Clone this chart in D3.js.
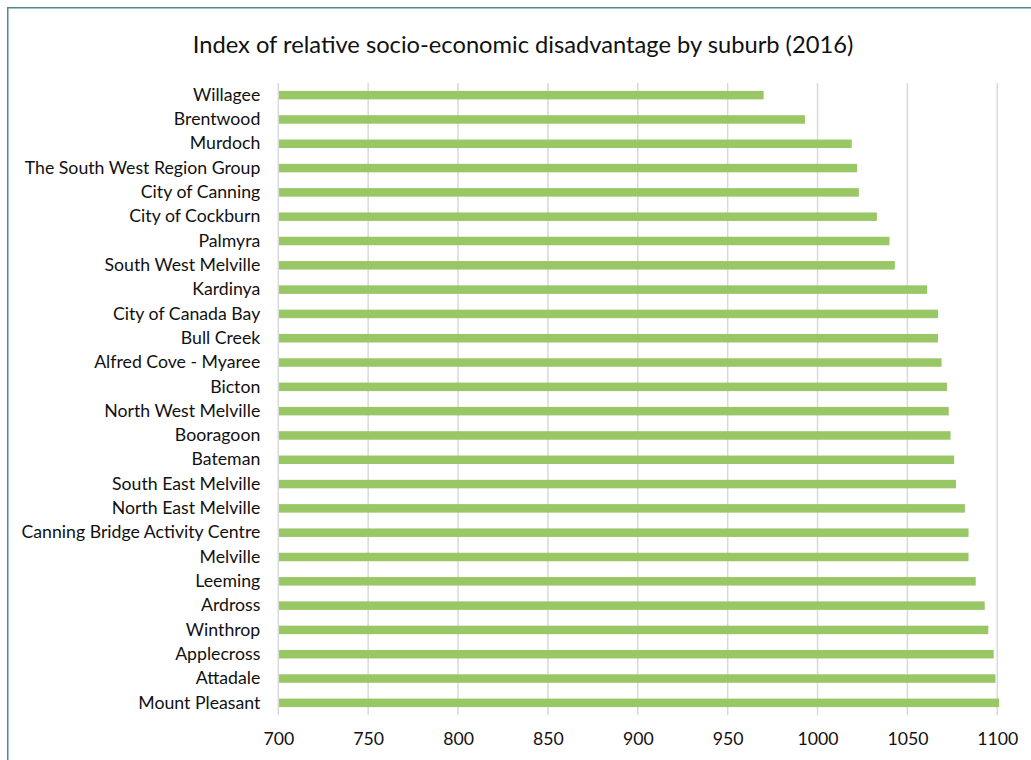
<!DOCTYPE html>
<html>
<head>
<meta charset="utf-8">
<script src="https://cdn.jsdelivr.net/npm/d3@7"></script>
<style>
  html, body { margin: 0; padding: 0; background: #fff; }
  svg { display: block; }
  text { font-family: "Lato", "Open Sans", sans-serif; fill: #111; }
</style>
</head>
<body>
<svg id="chart" width="1031" height="760"></svg>
<script>
const title = "Index of relative socio-economic disadvantage by suburb (2016)";
const suburbs = [
  "Willagee", "Brentwood", "Murdoch", "The South West Region Group", "City of Canning ",
  "City of Cockburn ", "Palmyra", "South West Melville", "Kardinya", "City of Canada Bay",
  "Bull Creek", "Alfred Cove - Myaree", "Bicton", "North West Melville", "Booragoon",
  "Bateman", "South East Melville", "North East Melville", "Canning Bridge Activity Centre", "Melville",
  "Leeming", "Ardross", "Winthrop", "Applecross", "Attadale", "Mount Pleasant"
];
const values = [
  970, 993, 1019, 1022, 1023,
  1033, 1040, 1043, 1061, 1067,
  1067, 1069, 1072, 1073, 1074,
  1076, 1077, 1082, 1084, 1084,
  1088, 1093, 1095, 1098, 1099, 1101
];
const xTicks = [700, 750, 800, 850, 900, 950, 1000, 1050, 1100];

const svg = d3.select("#chart");

// outer frame
svg.append("rect")
  .attr("x", 7.75).attr("y", 7.75)
  .attr("width", 1040).attr("height", 770)
  .attr("fill", "none")
  .attr("stroke", "#4b8b90")
  .attr("stroke-width", 1.5);

svg.append("text")
  .attr("x", 523).attr("y", 53)
  .attr("text-anchor", "middle")
  .style("font-size", "23.7px")
  .text(title);

const pLeft = 278.3, pRight = 997.3, pTop = 83, pBottom = 715;

const x = d3.scaleLinear().domain([700, 1100]).range([pLeft, pRight]);
const y = d3.scaleBand().domain(suburbs).range([pTop, pBottom]).paddingInner(0.65).paddingOuter(0.325);

// gridlines
svg.append("g")
  .selectAll("line")
  .data(xTicks.slice(1))
  .join("line")
  .attr("x1", d => x(d)).attr("x2", d => x(d))
  .attr("y1", pTop).attr("y2", pBottom)
  .attr("stroke", "#d9d9d9")
  .attr("stroke-width", 1.5);

// bars
svg.append("g")
  .selectAll("rect")
  .data(suburbs.map((s, i) => ({ s, v: values[i] })))
  .join("rect")
  .attr("x", x(700))
  .attr("y", d => y(d.s))
  .attr("width", d => x(d.v) - x(700))
  .attr("height", y.bandwidth())
  .attr("fill", "#9ac766");

// y axis line
svg.append("line")
  .attr("x1", pLeft).attr("x2", pLeft)
  .attr("y1", pTop).attr("y2", pBottom)
  .attr("stroke", "#d9d9d9")
  .attr("stroke-width", 1.5);

// category labels
const yAxis = d3.axisLeft(y).tickSize(0).tickPadding(18);
const gy = svg.append("g").attr("transform", `translate(${pLeft},0)`).call(yAxis);
gy.select(".domain").remove();
gy.selectAll("text")
  .style("font-size", "17.7px")
  .style("font-family", "Lato, 'Open Sans', sans-serif")
  .attr("fill", "#111");

// x axis
const xAxis = d3.axisBottom(x).tickValues(xTicks).tickFormat(d3.format("d")).tickSize(0).tickPadding(17);
const gx = svg.append("g").attr("transform", `translate(0,${pBottom})`).call(xAxis);
gx.select(".domain").remove();
gx.selectAll("text")
  .style("font-size", "17.7px")
  .style("font-family", "Lato, 'Open Sans', sans-serif")
  .attr("fill", "#111");
</script>
</body>
</html>
